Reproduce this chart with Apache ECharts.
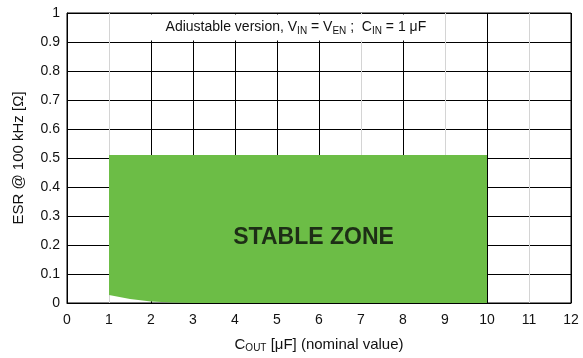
<!DOCTYPE html>
<html>
<head>
<meta charset="utf-8">
<script src="https://cdn.jsdelivr.net/npm/echarts@6/dist/echarts.min.js"></script>
<style>
  html, body { margin: 0; padding: 0; background: #fff; }
  #chart { width: 583px; height: 358px; }
</style>
</head>
<body>
<div id="chart"></div>
<script>
// Output capacitance axis (µF) and ESR axis (Ω)
const xTicks = [0, 1, 2, 3, 4, 5, 6, 7, 8, 9, 10, 11, 12];
const yTicks = [0, 0.1, 0.2, 0.3, 0.4, 0.5, 0.6, 0.7, 0.8, 0.9, 1];

// Stable region: bounded by C_OUT range, max ESR and a minimum-ESR edge at low C_OUT
const zoneCoutMin = 1;
const zoneCoutMax = 10;
const zoneEsrMax = 0.51;
const lowerEdgeCout = [1, 1.5, 2, 2.5, 3, 10];
const lowerEdgeEsr = [0.028, 0.014, 0.005, 0.0015, 0, 0];

const zoneLabel = 'STABLE ZONE';
const zoneLabelPos = [5.87, 0.226];

// Grid line colours per x tick (some verticals are drawn light)
const black = '#000';
const light = '#d4d4d4';
const xGridColors = [black, light, black, black, black, black, black, light, black, light, black, light, black];

// Boundary polygon of the stable zone
const zonePolygon = [[zoneCoutMin, zoneEsrMax], [zoneCoutMax, zoneEsrMax]];
for (let i = lowerEdgeCout.length - 1; i >= 0; i--) {
  zonePolygon.push([lowerEdgeCout[i], lowerEdgeEsr[i]]);
}

const font = "'Liberation Sans', Arial, sans-serif";
const textColor = '#111';

const chart = echarts.init(document.getElementById('chart'), null, { renderer: 'canvas' });
chart.setOption({
  animation: false,
  backgroundColor: '#fff',
  grid: {
    left: 67, right: 12, top: 13, bottom: 55,
    show: true, borderColor: '#000', borderWidth: 1
  },
  xAxis: {
    type: 'value',
    min: xTicks[0], max: xTicks[xTicks.length - 1], interval: 1,
    axisLine: { show: true, onZero: false, lineStyle: { color: '#000', width: 1 } },
    axisTick: { show: false },
    axisLabel: { color: textColor, fontSize: 14, fontFamily: font, margin: 10 },
    splitLine: { show: true, showMinLine: true, showMaxLine: true, lineStyle: { color: xGridColors, width: 1 } },
    name: 'C{sub|OUT} [μF] (nominal value)',
    nameLocation: 'middle',
    nameGap: 33,
    nameTextStyle: {
      color: textColor, fontSize: 15, fontFamily: font,
      rich: { sub: { fontSize: 10, fontFamily: font, color: textColor, padding: [7, 0, 0, 0] } }
    }
  },
  yAxis: {
    type: 'value',
    min: yTicks[0], max: yTicks[yTicks.length - 1], interval: 0.1,
    axisLine: { show: true, lineStyle: { color: '#000', width: 1 } },
    axisTick: { show: false },
    axisLabel: {
      color: textColor, fontSize: 14, fontFamily: font, margin: 7,
      formatter: v => String(Math.round(v * 10) / 10)
    },
    splitLine: { show: true, lineStyle: { color: '#000', width: 1 } },
    name: 'ESR @ 100 kHz [Ω]',
    nameLocation: 'middle',
    nameGap: 41,
    nameTextStyle: { color: textColor, fontSize: 15, fontFamily: font }
  },
  series: [
    {
      type: 'custom',
      coordinateSystem: 'cartesian2d',
      data: [0],
      renderItem: function (params, api) {
        const pts = zonePolygon.map(p => api.coord(p));
        return {
          type: 'polygon',
          shape: { points: pts },
          style: { fill: '#6cbd46', stroke: null }
        };
      },
      z: 3,
      silent: true
    },
    {
      type: 'scatter',
      data: [zoneLabelPos],
      symbolSize: 0,
      z: 5,
      silent: true,
      label: {
        show: true,
        position: 'inside',
        formatter: zoneLabel,
        color: '#0a0a0a',
        fontSize: 23,
        fontWeight: 'bold',
        fontFamily: font
      }
    },
    {
      type: 'line',
      data: [],
      z: 4,
      silent: true,
      markArea: {
        silent: true,
        itemStyle: { color: '#fff', borderWidth: 0 },
        label: {
          show: true,
          position: 'inside',
          color: textColor,
          fontSize: 14,
          fontFamily: font,
          formatter: 'Adiustable version, V{sub|IN} = V{sub|EN} ;  C{sub|IN} = 1 μF',
          rich: { sub: { fontSize: 10, fontFamily: font, color: textColor, padding: [7, 0, 0, 0] } }
        },
        data: [[{ xAxis: 1.95, yAxis: 0.905 }, { xAxis: 8.95, yAxis: 0.995 }]]
      }
    }
  ]
});
</script>
</body>
</html>
